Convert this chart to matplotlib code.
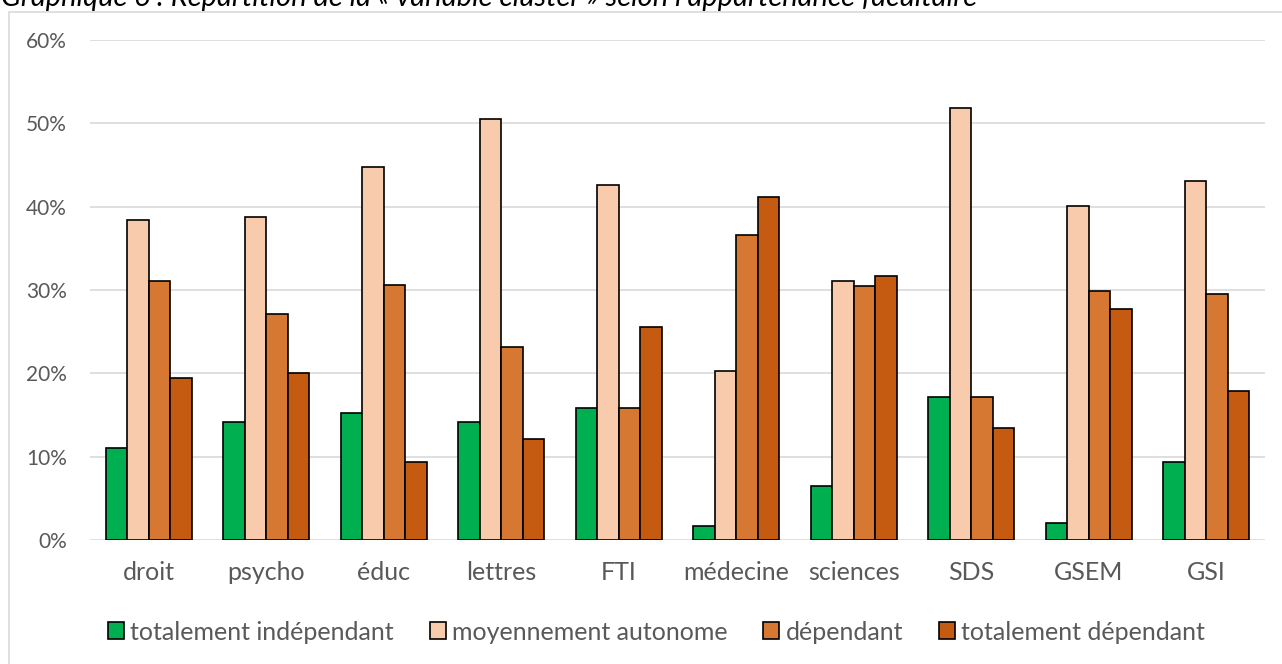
import matplotlib
matplotlib.use("Agg")
import matplotlib.pyplot as plt
from matplotlib.patches import Rectangle
import numpy as np

plt.rcParams['font.family'] = ['Lato', 'DejaVu Sans']

# Data: share of each cluster per faculty
faculties = ["droit", "psycho", "éduc", "lettres", "FTI", "médecine",
             "sciences", "SDS", "GSEM", "GSI"]
series_names = ["totalement indépendant", "moyennement autonome",
                "dépendant", "totalement dépendant"]
totalement_independant = [11.0, 14.2, 15.3, 14.2, 15.8, 1.7, 6.5, 17.2, 2.1, 9.4]
moyennement_autonome = [38.4, 38.7, 44.7, 50.5, 42.6, 20.3, 31.1, 51.8, 40.1, 43.1]
dependant = [31.1, 27.1, 30.6, 23.2, 15.8, 36.6, 30.5, 17.2, 29.9, 29.5]
totalement_dependant = [19.5, 20.0, 9.4, 12.1, 25.6, 41.2, 31.7, 13.5, 27.7, 17.9]
yticks = [0, 10, 20, 30, 40, 50, 60]

values = [totalement_independant, moyennement_autonome, dependant, totalement_dependant]
colors = ["#00B050", "#F8CBAD", "#D77832", "#C55A11"]

W, H = 1282, 664
fig = plt.figure(figsize=(W / 100, H / 100), dpi=100)

# outer chart frame
fig.patches.append(Rectangle((9 / W, -0.1), 1.2, (H - 11.5) / H + 0.1,
                             transform=fig.transFigure, fill=False,
                             edgecolor="#D9D9D9", linewidth=1.2))

# title
fig.text(1 / W, 1 - 6 / H,
         "Graphique 6 : Répartition de la « variable cluster » selon l’appartenance facultaire",
         fontsize=21, style="italic", ha="left", va="baseline", color="black")

left, right = 90 / W, 1265 / W
bottom, top = (H - 540) / H, (H - 40) / H
ax = fig.add_axes([left, bottom, right - left, top - bottom])

x = np.arange(len(faculties))
bw = 0.182
offsets = (np.arange(4) - 1.5) * bw
for vals, off, col, name in zip(values, offsets, colors, series_names):
    ax.bar(x + off, vals, width=bw, color=col, edgecolor="black",
           linewidth=1.2, label=name, zorder=3)

ax.set_xlim(-0.5, len(faculties) - 0.5)
ax.set_ylim(0, 60)
ax.set_yticks(yticks)
ax.set_yticklabels([f"{v}%" for v in yticks])
ax.set_xticks(x)
ax.set_xticklabels(faculties)
ax.tick_params(axis="both", length=0, colors="#595959")
ax.tick_params(axis="y", pad=16.5, labelsize=15)
ax.tick_params(axis="x", pad=15, labelsize=18)
ax.grid(axis="y", color="#D9D9D9", linewidth=1.2, zorder=0)
for s in ax.spines.values():
    s.set_visible(False)

leg = ax.legend(loc="center", bbox_to_anchor=(0.5 * (109 + 1204) / W, 1 - 632 / H),
                bbox_transform=fig.transFigure, ncol=4, frameon=False,
                fontsize=18, handlelength=0.64, handleheight=0.64,
                handletextpad=0.24, columnspacing=1.44, borderaxespad=0)
for t in leg.get_texts():
    t.set_color("#595959")

fig.savefig("out.png", dpi=100)
